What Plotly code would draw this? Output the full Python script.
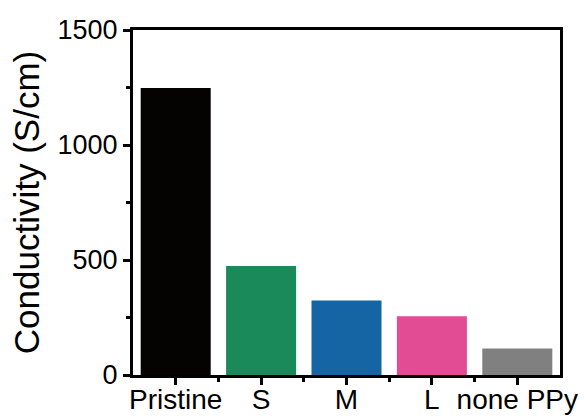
import plotly.graph_objects as go

# Conductivity of each sample
samples = ["Pristine", "S", "M", "L", "none PPy"]
conductivity = [1248, 474, 324, 255, 115]
bar_colors = ["#050202", "#1b8a5b", "#1565a5", "#e14c94", "#808080"]
y_ticks = [0, 500, 1000, 1500]

positions = list(range(len(samples)))

fig = go.Figure(
    go.Bar(
        x=positions,
        y=conductivity,
        width=0.82,
        marker=dict(color=bar_colors, line=dict(width=0)),
    )
)

family = "Liberation Sans, Arial, sans-serif"
x_font = dict(family=family, size=28, color="black")
y_font = dict(family=family, size=27, color="black")

fig.update_layout(
    width=584,
    height=416,
    margin=dict(l=133, r=24, t=30, b=41),
    plot_bgcolor="white",
    paper_bgcolor="white",
    showlegend=False,
    font=dict(family=family, color="black"),
)

fig.update_xaxes(
    automargin=False,
    range=[-0.5, len(samples) - 0.5],
    tickvals=positions,
    ticktext=samples,
    tickfont=x_font,
    ticklabelstandoff=-10,
    ticks="outside",
    ticklen=7,
    tickwidth=2.5,
    tickcolor="black",
    showline=True,
    linewidth=3,
    linecolor="black",
    mirror=True,
    showgrid=False,
    zeroline=False,
    minor=dict(
        tickvals=[p + 0.5 for p in positions[:-1]],
        ticks="outside",
        ticklen=4,
        tickwidth=2.5,
        tickcolor="black",
    ),
)

fig.update_yaxes(
    automargin=False,
    range=[0, 1500],
    tickvals=y_ticks,
    tickfont=y_font,
    ticks="outside",
    ticklen=7,
    tickwidth=2.5,
    tickcolor="black",
    showline=True,
    linewidth=3,
    linecolor="black",
    mirror=True,
    showgrid=False,
    zeroline=False,
    title=dict(text="Conductivity (S/cm)", font=dict(family=family, size=35, color="black"), standoff=8),
    minor=dict(
        tickvals=[250, 750, 1250],
        ticks="outside",
        ticklen=4,
        tickwidth=2.5,
        tickcolor="black",
    ),
)

fig.write_html("out.html")
